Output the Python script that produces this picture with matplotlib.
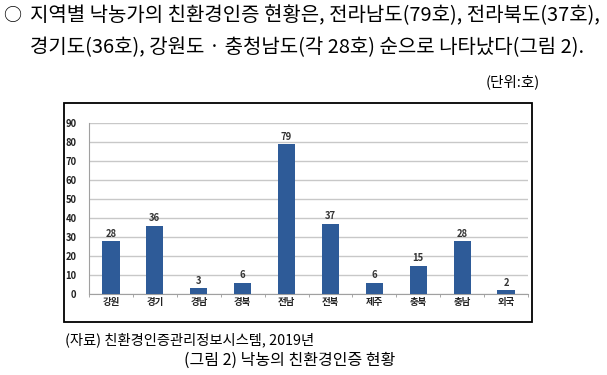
import numpy as np
import matplotlib
matplotlib.use('Agg')
import matplotlib.pyplot as plt
from matplotlib.patches import Rectangle

plt.rcParams['font.family'] = ['Noto Sans CJK KR', 'DejaVu Sans']

# data
regions = ['강원', '경기', '경남', '경북', '전남', '전북', '제주', '충북', '충남', '외국']
farms = [28, 36, 3, 6, 79, 37, 6, 15, 28, 2]
yticks = np.arange(0, 100, 10)

line1 = '지역별 낙농가의 친환경인증 현황은, 전라남도(79호), 전라북도(37호),'
line2 = '경기도(36호), 강원도 · 충청남도(각 28호) 순으로 나타났다(그림 2).'
unit_txt = '(단위:호)'
source_txt = '(자료) 친환경인증관리정보시스템, 2019년'
caption = '(그림 2) 낙농의 친환경인증 현황'

W, H = 607, 375
fig = plt.figure(figsize=(W / 100, H / 100), dpi=100)

# body text above the chart
fig.text(12 / W, 1 - 16 / H, '○', fontsize=13, ha='center', va='center')
fig.text(30 / W, 1 - 16 / H, line1, fontsize=14.4, ha='left', va='center')
fig.text(30 / W, 1 - 48 / H, line2, fontsize=14.4, ha='left', va='center')
fig.text(540 / W, 1 - 82 / H, unit_txt, fontsize=10.5, ha='right', va='center')

# black frame around the chart
fig.patches.append(Rectangle((64 / W, 1 - 322 / H), (532 - 64) / W, (322 - 103) / H,
                             transform=fig.transFigure, fill=False,
                             edgecolor='black', linewidth=1.3))

ax = fig.add_axes([89 / W, 1 - 294 / H, (528 - 89) / W, (294 - 123) / H])
x = np.arange(len(regions))
ax.bar(x, farms, width=0.39, color='#2E5B98', zorder=3)
for xi, v in zip(x, farms):
    ax.text(xi, v + 1.2, str(v), ha='center', va='bottom', fontsize=6.8,
            fontweight='bold', color='#333333')

ax.set_xlim(-0.5, len(regions) - 0.5)
ax.set_ylim(0, 90)
ax.set_yticks(yticks)
ax.set_yticklabels([str(t) for t in yticks], fontsize=6.8, fontweight='bold', color='#222222')
ax.set_xticks(x)
ax.set_xticklabels(regions, fontsize=6.8, fontweight='bold', color='#222222')
ax.set_xticks(np.arange(len(regions) + 1) - 0.5, minor=True)
ax.tick_params(axis='x', which='major', length=0, pad=2)
ax.tick_params(axis='x', which='minor', length=2.5, color='#999999')
ax.tick_params(axis='y', length=0, pad=9)
ax.grid(axis='y', color='#c8c8c8', linewidth=1, zorder=0)
for s in ['top', 'right']:
    ax.spines[s].set_visible(False)
for s in ['left', 'bottom']:
    ax.spines[s].set_color('#a0a0a0')
    ax.spines[s].set_linewidth(0.8)

fig.text(65 / W, 1 - 340 / H, source_txt, fontsize=10.3, ha='left', va='center')
fig.text(290 / W, 1 - 360 / H, caption, fontsize=11.5, ha='center', va='center')

fig.savefig('out.png', dpi=100)
